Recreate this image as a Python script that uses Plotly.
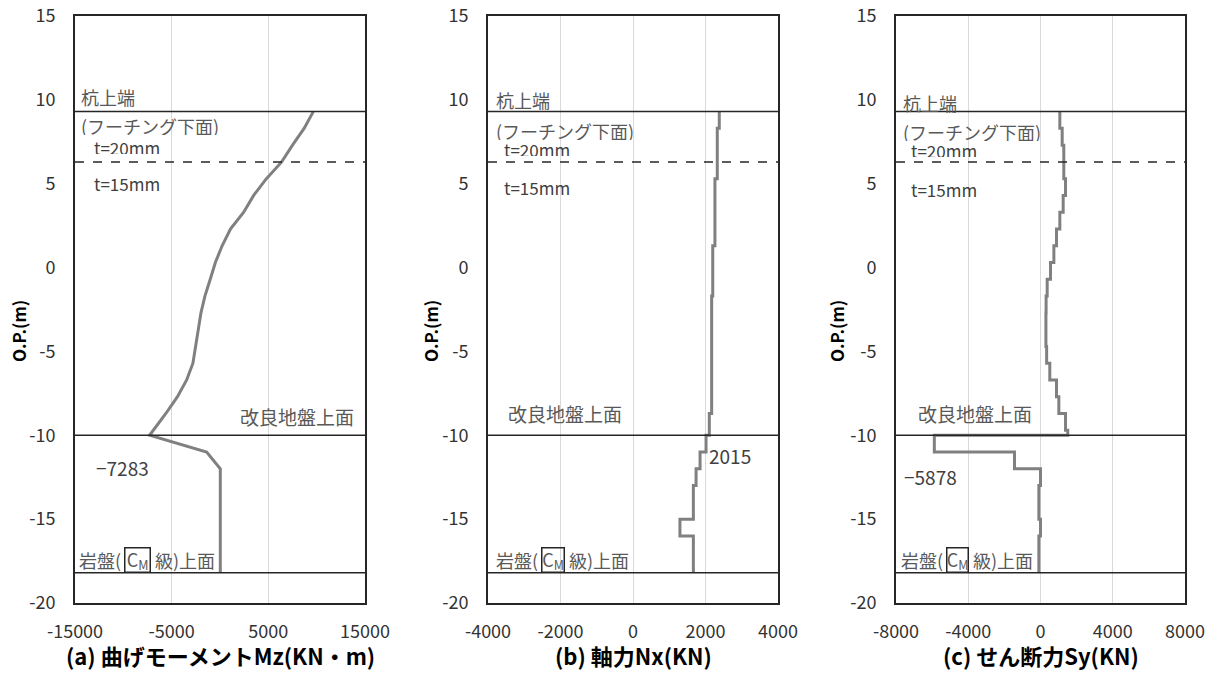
import plotly.graph_objects as go

# ---------------- data ----------------
NODE_DEPTHS = [9.3, 8.3, 7.3, 6.3, 5.3, 4.3, 3.3, 2.3, 1.3, 0.3, -0.7, -1.7, -2.7, -3.7, -4.7,
               -5.7, -6.7, -7.7, -8.7, -9.7, -10.0, -11.0, -12.0, -13.0, -14.0, -15.0, -16.0,
               -17.0, -18.2]
# bending moment at nodes (kN*m)
MZ = [9650, 8700, 7500, 6380, 4800, 3480, 2450, 1080, 220, -480, -1010, -1560, -1970, -2240,
      -2500, -2800, -3450, -4400, -5600, -6850, -7283, -1380, 30, 30, 30, 30, 30, 30, 30]
# axial force per element (kN), element i spans NODE_DEPTHS[i]..NODE_DEPTHS[i+1]
NX = [2380, 2325, 2325, 2325, 2260, 2260, 2260, 2260, 2200, 2200, 2200,
      2170, 2170, 2170, 2170, 2170, 2170, 2170, 2105, 2105,
      2015, 1850, 1740, 1665, 1665, 1295, 1665, 1665]
# shear force per element (kN)
SY = [1070, 1200, 1290, 1290, 1385, 1255, 1070, 885, 740, 555, 370,
      310, 300, 300, 340, 515, 885, 1015, 1385, 1510,
      -5878, -1440, 0, -90, -90, 0, -90, -90]

LEVEL_PILE_TOP = 9.3
LEVEL_THICKNESS = 6.3
LEVEL_IMPROVED = -10.0
LEVEL_ROCK = -18.2

Y_TICKS = [15, 10, 5, 0, -5, -10, -15, -20]
Y_TICKTEXT = ["15", "10", "5", "0", "-5", "-10", "-15", "-20"]
X_TICKS = [[-15000, -5000, 5000, 15000],
           [-4000, -2000, 0, 2000, 4000],
           [-8000, -4000, 0, 4000, 8000]]
X_TICKTEXT = [["-15000", "-5000", "5000", "15000"],
              ["-4000", "-2000", "0", "2000", "4000"],
              ["-8000", "-4000", "0", "4000", "8000"]]
X_RANGES = [[-15000, 15000], [-4000, 4000], [-8000, 8000]]
X_TITLES = ["(a) 曲げモーメントMz(KN・m)", "(b) 軸力Nx(KN)", "(c) せん断力Sy(KN)"]
PEAK_LABELS = ["−7283", "2015", "−5878"]

# ---------------- layout helpers ----------------
W, H = 1223, 673
def px(x):
    return x / W
def py(y):
    return 1 - y / H

PLOT_L = [75, 488, 896]
PLOT_R = [365, 778, 1185]
PLOT_T, PLOT_B = 16, 603

CURVE = "#808080"
DARK = "#262626"
GREY_TXT = "#595959"
TXT = "#404040"
CJK = "Noto Sans CJK JP"

fig = go.Figure()

fig.add_trace(go.Scatter(x=MZ, y=NODE_DEPTHS, mode="lines",
                         line=dict(color=CURVE, width=3), xaxis="x", yaxis="y",
                         showlegend=False))
fig.add_trace(go.Scatter(x=NX + [NX[-1]], y=NODE_DEPTHS, mode="lines",
                         line=dict(color=CURVE, width=3, shape="vh"), xaxis="x2", yaxis="y2",
                         showlegend=False))
fig.add_trace(go.Scatter(x=SY + [SY[-1]], y=NODE_DEPTHS, mode="lines",
                         line=dict(color=CURVE, width=3, shape="vh"), xaxis="x3", yaxis="y3",
                         showlegend=False))

layout = dict(width=W, height=H, margin=dict(l=0, r=0, t=0, b=0),
              paper_bgcolor="white", plot_bgcolor="white", showlegend=False)

tickfont = dict(family=CJK, size=18, color="#333333")
for i in range(3):
    sx = "" if i == 0 else str(i + 1)
    layout["xaxis" + sx] = dict(
        domain=[px(PLOT_L[i]), px(PLOT_R[i])], range=X_RANGES[i], anchor="y" + sx,
        tickvals=X_TICKS[i], ticktext=X_TICKTEXT[i], tickfont=tickfont,
        showgrid=True, gridcolor="#d9d9d9", gridwidth=1, zeroline=False,
        showline=True, mirror=True, linecolor=DARK, linewidth=1.8,
        ticks="outside", ticklen=11, tickcolor="rgba(0,0,0,0)", automargin=False)
    layout["yaxis" + sx] = dict(
        domain=[py(PLOT_B), py(PLOT_T)], range=[-20, 15], anchor="x" + sx,
        tickvals=Y_TICKS, ticktext=Y_TICKTEXT, tickfont=tickfont,
        showgrid=False, zeroline=False,
        showline=True, mirror=True, linecolor=DARK, linewidth=1.8,
        ticks="outside", ticklen=14, tickcolor="rgba(0,0,0,0)", automargin=False)

shapes = []
for i in range(3):
    sx = "" if i == 0 else str(i + 1)
    for lvl, dash in [(LEVEL_PILE_TOP, "solid"), (LEVEL_THICKNESS, "dash"),
                      (LEVEL_IMPROVED, "solid"), (LEVEL_ROCK, "solid")]:
        shapes.append(dict(type="line", xref="x" + sx + " domain", yref="y" + sx,
                           x0=0, x1=1, y0=lvl, y1=lvl,
                           line=dict(color=DARK, width=1.5, dash=dash)))
layout["shapes"] = shapes

ann = []
def text(x, y, s, anchor="left", size=18, color=GREY_TXT, bold=False, **kw):
    ann.append(dict(xref="paper", yref="paper", x=px(x), y=py(y), text=s,
                    xanchor=anchor, yanchor="middle", showarrow=False,
                    font=dict(family=CJK, size=size, color=color,
                              weight="bold" if bold else "normal"), **kw))

# per-panel label positions (pixels)
top_lbl = [(79, 97), (494, 100), (901, 103)]
foot_lbl = [(79, 126), (494, 131), (901, 132)]
t20 = [(92, 147), (502, 149), (909, 150)]
t15 = [(92, 184), (502, 187), (909, 189)]
imp = [(356, 416, "right"), (506, 413, "left"), (916, 413, "left")]
peak = [(94, 467), (707, 455), (902, 476)]
rock_box = [(124, 151), (541, 565), (946, 969)]

for i in range(3):
    text(*top_lbl[i], "杭上端")
    text(*foot_lbl[i], "(フーチング下面)", height=18)
    text(*t20[i], "t=20mm", size=17, color=TXT, height=14)
    text(*t15[i], "t=15mm", size=17, color=TXT)
    text(imp[i][0], imp[i][1], "改良地盤上面", anchor=imp[i][2], size=19)
    text(*peak[i], PEAK_LABELS[i], size=19, color=TXT)
    bl, br = rock_box[i]
    text(bl - 1, 560, "岩盤(", anchor="right")
    text((bl + br) / 2, 560, "C<sub>M</sub>", anchor="center", color=GREY_TXT,
         bordercolor=DARK, borderwidth=1.5, borderpad=0, width=br - bl - 3, height=23)
    text(br + 2, 560, "級)上面", anchor="left")
    # axis titles
    text((PLOT_L[i] + PLOT_R[i]) / 2, 655, X_TITLES[i], anchor="center", size=22,
         color="#000000", bold=True)
    ycx = [18, 430, 836][i]
    ann.append(dict(xref="paper", yref="paper", x=px(ycx), y=py(331), text="O.P.(m)",
                    textangle=-90, xanchor="center", yanchor="middle", showarrow=False,
                    font=dict(family=CJK, size=17, color="#000000", weight="bold")))

layout["annotations"] = ann
fig.update_layout(**layout)
fig.write_html("out.html", config={"displayModeBar": False},
               post_script="document.body.style.margin='0px';document.body.style.overflow='hidden';")
